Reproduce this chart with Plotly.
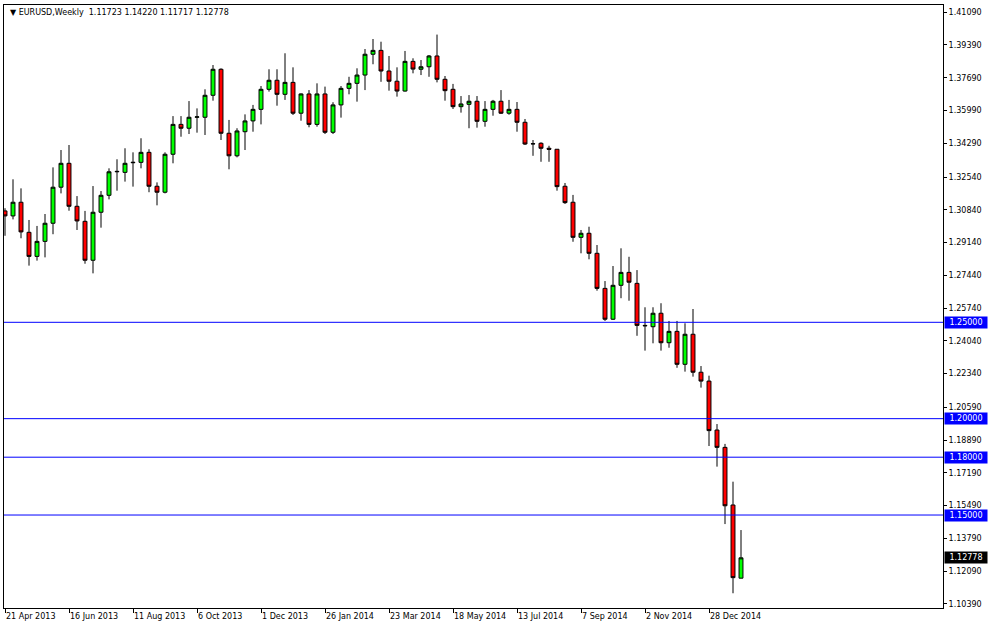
import pandas as pd
import plotly.graph_objects as go

start_week = "2013-04-21"
opens = [1.3078,1.3052,1.3123,1.2967,1.2842,1.2920,1.3014,1.3201,1.3325,1.3102,
         1.3024,1.2822,1.3071,1.3159,1.3281,1.3278,1.3328,1.3330,1.3382,1.3206,
         1.3175,1.3372,1.3527,1.3507,1.3564,1.3564,1.3678,1.3813,1.3481,1.3364,
         1.3489,1.3545,1.3605,1.3709,1.3756,1.3683,1.3745,1.3585,1.3685,1.3527,
         1.3685,1.3486,1.3628,1.3714,1.3740,1.3783,1.3891,1.3911,1.3804,1.3751,
         1.3700,1.3854,1.3813,1.3826,1.3882,1.3761,1.3709,1.3619,1.3631,1.3647,
         1.3543,1.3605,1.3647,1.3585,1.3605,1.3538,1.3427,1.3429,1.3403,1.3398,
         1.3206,1.3123,1.2941,1.2962,1.2858,1.2676,1.2516,1.2692,1.2759,1.2702,
         1.2484,1.2477,1.2547,1.2394,1.2453,1.2282,1.2438,1.2241,1.2195,1.1941,
         1.1851,1.1552,1.11723]
highs = [1.3092,1.3242,1.3195,1.3031,1.3000,1.3062,1.3304,1.3394,1.3420,1.3155,
         1.3078,1.3207,1.3181,1.3299,1.3346,1.3403,1.3382,1.3455,1.3398,1.3226,
         1.3382,1.3570,1.3570,1.3648,1.3610,1.3709,1.3835,1.3818,1.3550,1.3507,
         1.3579,1.3628,1.3726,1.3813,1.3813,1.3896,1.3823,1.3688,1.3705,1.3740,
         1.3723,1.3642,1.3726,1.3774,1.3818,1.3918,1.3970,1.3956,1.3882,1.3823,
         1.3908,1.3870,1.3861,1.3887,1.3993,1.3778,1.3737,1.3674,1.3679,1.3674,
         1.3648,1.3654,1.3705,1.3654,1.3643,1.3555,1.3446,1.3434,1.3416,1.3399,
         1.3223,1.3161,1.2979,1.2996,1.2901,1.2714,1.2792,1.2884,1.2840,1.2771,
         1.2578,1.2578,1.2599,1.2507,1.2507,1.2495,1.2569,1.2273,1.2223,1.1972,
         1.1869,1.1673,1.14220]
lows = [1.2949,1.3034,1.2936,1.2794,1.2820,1.2837,1.2957,1.3169,1.3079,1.2979,
        1.2804,1.2754,1.2991,1.3138,1.3183,1.3230,1.3204,1.3299,1.3175,1.3107,
        1.3169,1.3325,1.3463,1.3477,1.3484,1.3472,1.3650,1.3446,1.3294,1.3356,
        1.3394,1.3489,1.3527,1.3697,1.3624,1.3654,1.3576,1.3546,1.3512,1.3515,
        1.3477,1.3477,1.3562,1.3683,1.3645,1.3705,1.3839,1.3748,1.3702,1.3671,
        1.3697,1.3792,1.3783,1.3774,1.3745,1.3650,1.3607,1.3588,1.3507,1.3510,
        1.3515,1.3572,1.3581,1.3577,1.3489,1.3420,1.3364,1.3333,1.3333,1.3183,
        1.3114,1.2918,1.2858,1.2827,1.2664,1.2507,1.2512,1.2625,1.2612,1.2430,
        1.2353,1.2391,1.2353,1.2368,1.2264,1.2244,1.2218,1.2161,1.1858,1.1751,
        1.1453,1.1094,1.11717]
closes = [1.3052,1.3123,1.2969,1.2842,1.2920,1.3014,1.3201,1.3325,1.3102,1.3026,
          1.2822,1.3071,1.3159,1.3281,1.3283,1.3325,1.3330,1.3382,1.3206,1.3175,
          1.3372,1.3527,1.3507,1.3564,1.3566,1.3678,1.3813,1.3481,1.3364,1.3493,
          1.3545,1.3605,1.3709,1.3756,1.3683,1.3745,1.3585,1.3685,1.3527,1.3685,
          1.3486,1.3628,1.3714,1.3740,1.3783,1.3891,1.3911,1.3804,1.3751,1.3700,
          1.3854,1.3814,1.3826,1.3882,1.3761,1.3702,1.3619,1.3633,1.3647,1.3543,
          1.3605,1.3647,1.3585,1.3605,1.3538,1.3425,1.3426,1.3403,1.3398,1.3204,
          1.3121,1.2941,1.2962,1.2858,1.2676,1.2516,1.2692,1.2759,1.2708,1.2484,
          1.2482,1.2547,1.2394,1.2453,1.2282,1.2438,1.2241,1.2195,1.1938,1.1851,
          1.1548,1.1175,1.12778]

level_lines = [1.25, 1.20, 1.18, 1.15]
last_price = 1.12778
title_text = "EURUSD,Weekly  1.11723 1.14220 1.11717 1.12778"

y_tick_vals = [1.41090,1.39390,1.37690,1.35990,1.34290,1.32540,1.30840,1.29140,1.27440,
               1.25740,1.24040,1.22340,1.20590,1.18890,1.17190,1.15490,1.13790,1.12090,1.10390]
x_tick_dates = ["2013-04-21","2013-06-16","2013-08-11","2013-10-06","2013-12-01","2014-01-26",
                "2014-03-23","2014-05-18","2014-07-13","2014-09-07","2014-11-02","2014-12-28"]
x_tick_labels = ["21 Apr 2013","16 Jun 2013","11 Aug 2013","6 Oct 2013","1 Dec 2013","26 Jan 2014",
                 "23 Mar 2014","18 May 2014","13 Jul 2014","7 Sep 2014","2 Nov 2014","28 Dec 2014"]

dates = pd.date_range(start_week, periods=len(opens), freq="7D")
FONT = "DejaVu Sans"

fig = go.Figure(go.Candlestick(
    x=dates, open=opens, high=highs, low=lows, close=closes,
    increasing=dict(line=dict(color="black", width=1), fillcolor="#00FF00"),
    decreasing=dict(line=dict(color="black", width=1), fillcolor="#FF0000"),
    whiskerwidth=0, hoverinfo="x+y",
))

t0 = pd.Timestamp(start_week)
week = pd.Timedelta(days=7)
x_range = [t0 - week * 0.125, t0 + week * 117.25]

shapes = []
annotations = []
for lv in level_lines:
    shapes.append(dict(type="line", xref="paper", x0=0, x1=1, yref="y", y0=lv, y1=lv,
                       line=dict(color="#0000FF", width=1), layer="above"))
    annotations.append(dict(xref="paper", x=1, xanchor="left", xshift=1, yref="y", y=lv,
                            text=f"{lv:.5f}", showarrow=False, bgcolor="#0000FF",
                            font=dict(family=FONT, size=8, color="white"),
                            borderpad=1, width=40, align="center"))
annotations.append(dict(xref="paper", x=1, xanchor="left", xshift=1, yref="y", y=last_price,
                        text=f"{last_price:.5f}", showarrow=False, bgcolor="#000000",
                        font=dict(family=FONT, size=8, color="white"),
                        borderpad=1, width=40, align="center"))
annotations.append(dict(xref="paper", yref="paper", x=0, y=1, xanchor="left", yanchor="top",
                        xshift=4, yshift=-1, text="▼ " + title_text, showarrow=False,
                        font=dict(family=FONT, size=8, color="black")))

fig.update_layout(
    width=989, height=628,
    margin=dict(l=4, r=46, t=5, b=20, autoexpand=False),
    paper_bgcolor="white", plot_bgcolor="white",
    showlegend=False,
    shapes=shapes, annotations=annotations,
    font=dict(family=FONT, size=8, color="black"),
    xaxis=dict(type="date", range=x_range, rangeslider=dict(visible=False),
               tickvals=x_tick_dates, ticktext=x_tick_labels,
               ticks="outside", ticklen=4, tickcolor="black",
               ticklabelposition="outside right",
               showline=True, linecolor="black", linewidth=1, mirror=True,
               showgrid=False, zeroline=False, automargin=False,
               tickfont=dict(family=FONT, size=8, color="black")),
    yaxis=dict(side="right", range=[1.10175, 1.41465],
               tickvals=y_tick_vals, ticktext=[f"{v:.5f}" for v in y_tick_vals],
               ticks="outside", ticklen=3, tickcolor="black",
               showline=True, linecolor="black", linewidth=1, mirror=True,
               showgrid=False, zeroline=False, automargin=False,
               tickfont=dict(family=FONT, size=8, color="black")),
)

fig.write_html("out.html", config={"displayModeBar": False},
               post_script="document.body.style.margin='0px';document.body.style.overflow='hidden';")
